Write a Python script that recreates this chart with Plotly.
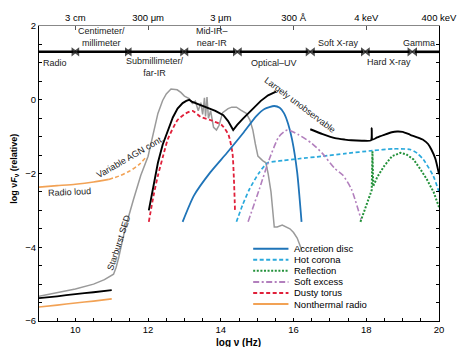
import plotly.graph_objects as go

FONT = "Liberation Sans"

# ---- SED components (log nu [Hz], log nuF_nu relative) ----
radio_loud_x = [9.0, 9.5, 10.0, 10.5, 10.92]
radio_loud_y = [-2.37, -2.33, -2.29, -2.23, -2.16]
agn_var_x = [10.92, 11.2, 11.5, 11.75, 11.95]
agn_var_y = [-2.16, -2.07, -1.93, -1.76, -1.55]

radio_quiet_x = [9.0, 9.5, 10.0, 10.5, 11.0]
radio_quiet_y = [-5.62, -5.57, -5.51, -5.46, -5.40]

total_radio_x = [9.0, 9.5, 10.0, 10.5, 11.0]
total_radio_y = [-5.38, -5.33, -5.27, -5.22, -5.16]

starburst_x = [9.0, 9.5, 10.0, 10.5, 10.8, 11.05, 11.12, 11.19, 11.28, 11.37, 11.6, 11.8,
               12.0, 12.12, 12.27, 12.4, 12.5, 12.63, 12.8, 12.9, 13.0, 13.13, 13.22, 13.3,
               13.38, 13.45, 13.5, 13.55, 13.58, 13.62, 13.66, 13.72, 13.8, 13.88, 13.95,
               14.05, 14.2, 14.3, 14.43, 14.55, 14.7, 14.8, 14.88, 14.95, 15.02, 15.15,
               15.24, 15.3, 15.38, 15.47, 15.55, 15.69, 15.8, 15.9, 16.0, 16.1, 16.22]
starburst_y = [-5.33, -5.24, -5.13, -5.0, -4.88, -4.73, -4.55, -4.29, -3.85, -3.49, -2.7, -2.05,
               -1.53, -1.0, -0.37, -0.02, 0.16, 0.29, 0.27, 0.2, 0.1, 0.03, -0.1, -0.04,
               -0.3, -0.08, -0.4, 0.05, -0.45, 0.07, -0.5, -0.3, -0.75, -0.82, -0.7,
               -0.35, -0.24, -0.2, -0.2, -0.28, -0.37, -0.55, -0.82, -1.2, -1.53, -1.65,
               -1.71, -2.0, -2.5, -3.45, -3.45, -3.4, -3.45, -3.5, -3.6, -3.75, -4.06]

total_ir_x = [12.02, 12.1, 12.2, 12.27, 12.4, 12.54, 12.68, 12.81, 12.95, 13.05, 13.13, 13.2,
              13.35, 13.5, 13.62, 13.85, 14.07, 14.2, 14.34, 14.45, 14.61, 14.88, 15.1, 15.3,
              15.45, 15.52]
total_ir_y = [-3.0, -2.55, -2.05, -1.71, -1.22, -0.82, -0.48, -0.24, -0.09, -0.03, 0.0, -0.05,
              -0.11, -0.17, -0.22, -0.3, -0.42, -0.58, -0.82, -0.68, -0.51, -0.24, -0.03, 0.12,
              0.2, 0.22]

total_x_x = [16.46, 16.8, 17.14, 17.41, 17.59, 17.9, 18.13, 18.15, 18.17, 18.3, 18.49, 18.7,
             18.85, 19.0, 19.21, 19.4, 19.57, 19.7, 19.79, 19.9, 20.0]
total_x_y = [-0.8, -0.93, -1.04, -1.08, -1.10, -1.11, -1.10, -0.77, -1.08, -1.02, -0.95, -0.88,
             -0.86, -0.87, -0.95, -1.02, -1.09, -1.2, -1.35, -1.6, -2.02]

torus_x = [12.02, 12.15, 12.27, 12.42, 12.54, 12.81, 13.04, 13.22, 13.44, 13.71, 14.03, 14.21,
           14.32, 14.36, 14.39]
torus_y = [-3.31, -2.6, -2.06, -1.5, -1.08, -0.55, -0.37, -0.30, -0.46, -0.55, -0.69, -0.95,
           -1.44, -2.15, -3.0]

disc_x = [12.95, 13.26, 13.71, 14.16, 14.61, 14.97, 15.2, 15.47, 15.62, 15.74, 15.85, 15.96,
          16.1, 16.22]
disc_y = [-3.31, -2.6, -1.97, -1.45, -0.91, -0.45, -0.25, -0.17, -0.22, -0.37, -0.65, -1.08,
          -1.97, -3.31]

corona_x = [14.43, 14.6, 14.79, 15.06, 15.29, 15.7, 16.14, 16.8, 17.41, 18.17, 18.76, 19.21,
            19.4, 19.57, 19.84, 20.0]
corona_y = [-3.31, -2.85, -2.42, -1.97, -1.71, -1.65, -1.6, -1.53, -1.46, -1.38, -1.33, -1.35,
            -1.45, -1.62, -2.06, -2.5]

soft_x = [14.75, 15.06, 15.33, 15.6, 15.83, 16.14, 16.5, 16.78, 17.14, 17.36, 17.59, 17.86]
soft_y = [-3.31, -2.42, -1.62, -1.0, -0.82, -0.95, -1.18, -1.44, -1.87, -2.05, -2.42, -3.25]

refl_x = [17.84, 18.0, 18.15, 18.17, 18.19, 18.3, 18.49, 18.71, 18.94, 19.1, 19.3, 19.5,
          19.66, 19.85, 20.0]
refl_y = [-3.31, -2.85, -2.45, -1.40, -2.35, -2.1, -1.8, -1.53, -1.44, -1.48, -1.62, -1.9,
          -2.15, -2.5, -2.91]

# ---- wavelength / energy band bar ----
band_names = ["Radio", "Centimeter/<br>millimeter", "Submillimeter/<br>far-IR",
              "Mid-IR–<br>near-IR", "Optical–UV", "Soft X-ray", "Hard X-ray", "Gamma"]
band_start = [9.0, 10.05, 11.49, 13.05, 14.52, 16.53, 18.04, 19.34]
band_end = [9.95, 11.42, 12.94, 14.39, 16.39, 17.91, 19.19, 20.0]
band_label_x = [9.05, 10.73, 12.2, 13.76, 15.46, 17.24, 18.62, 19.45]
band_label_y = [1.0, 1.69, 0.88, 1.69, 1.0, 1.53, 1.03, 1.53]
band_y = 1.3

top_tick_vals = [10, 12, 14, 16, 18, 20]
top_tick_text = ["3 cm", "300 μm", "3 μm", "300 Å", "4 keV", "400 keV"]

# ---- legend ----
legend_names = ["Accretion disc", "Hot corona", "Reflection", "Soft excess",
                "Dusty torus", "Nonthermal radio"]
legend_colors = ["#1f74b8", "#2aa9dc", "#23913a", "#b27fbd", "#e0203a", "#f2a255"]
legend_dash = ["solid", "4px,2.5px", "2px,1.6px", "6px,2.5px,2px,2.5px", "4px,2.5px", "solid"]

C_DISC, C_COR, C_REF, C_SOFT, C_TOR, C_RAD = legend_colors
GRAY = "#9a9a9a"

fig = go.Figure()


def add_line(x, y, color, width, dash="solid", shape="spline"):
    fig.add_trace(go.Scatter(x=x, y=y, mode="lines", showlegend=False, hoverinfo="skip",
                             line=dict(color=color, width=width, dash=dash, shape=shape,
                                       smoothing=0.6)))


add_line(starburst_x, starburst_y, GRAY, 1.5, shape="linear")
add_line(radio_loud_x, radio_loud_y, C_RAD, 1.6)
add_line(agn_var_x, agn_var_y, C_RAD, 1.6, dash="4px,2.5px")
add_line(radio_quiet_x, radio_quiet_y, C_RAD, 1.6)
add_line(total_radio_x, total_radio_y, "black", 1.8)
add_line(torus_x, torus_y, C_TOR, 1.8, dash=legend_dash[4])
add_line(disc_x, disc_y, C_DISC, 1.8)
add_line(corona_x, corona_y, C_COR, 1.7, dash=legend_dash[1])
add_line(soft_x, soft_y, C_SOFT, 1.6, dash=legend_dash[3])
add_line(refl_x, refl_y, C_REF, 2.0, dash=legend_dash[2], shape="linear")
add_line(total_ir_x, total_ir_y, "black", 1.9, shape="linear")
add_line(total_x_x, total_x_y, "black", 1.9)

# band bar: one thick segment per band with arrowheads at inner ends
for i, (s, e) in enumerate(zip(band_start, band_end)):
    symbols = ["line-ns" if i == 0 else "triangle-left",
               "line-ns" if i == len(band_start) - 1 else "triangle-right"]
    sizes = [0 if i == 0 else 8, 0 if i == len(band_start) - 1 else 8]
    fig.add_trace(go.Scatter(x=[s, e], y=[band_y, band_y], mode="lines+markers",
                             showlegend=False, hoverinfo="skip",
                             line=dict(color="black", width=2.6),
                             marker=dict(symbol=symbols, size=sizes, color="black",
                                         line=dict(width=0))))

# dummy trace so the top axis is rendered
fig.add_trace(go.Scatter(x=[None], y=[None], xaxis="x2", showlegend=False, hoverinfo="skip"))

annotations = []
for i, (name, lx, ly) in enumerate(zip(band_names, band_label_x, band_label_y)):
    annotations.append(dict(x=lx, y=ly, text=name, showarrow=False,
                            xanchor="left" if i == 0 else "center", yanchor="middle",
                            font=dict(family=FONT, size=9, color="#222")))

# curve captions
annotations += [
    dict(x=11.49, y=-1.54, text="Variable AGN cont.", textangle=-30, showarrow=False,
         font=dict(family=FONT, size=9, color="#222")),
    dict(x=9.84, y=-2.5, text="Radio loud", textangle=-3, showarrow=False,
         font=dict(family=FONT, size=9, color="#222")),
    dict(x=11.19, y=-3.88, text="Starburst SED", textangle=-72, showarrow=False,
         font=dict(family=FONT, size=9, color="#222")),
    dict(x=16.18, y=-0.14, text="Largely unobservable", textangle=37, showarrow=False,
         font=dict(family=FONT, size=9, color="#222")),
    dict(x=0, xref="paper", xshift=-24, y=-1.87, yref="y",
         text="<b>log ν<i>F</i><sub>ν</sub> (relative)</b>",
         textangle=-90, showarrow=False, font=dict(family=FONT, size=9, color="black"),
         xanchor="center", yanchor="middle"),
    dict(x=14.49, y=0, yref="paper", yshift=-14, text="<b>log ν (Hz)</b>", showarrow=False,
         yanchor="top", font=dict(family=FONT, size=10, color="black")),
]

# legend drawn as samples + labels
shapes = []
leg_x0, leg_x1, leg_tx = 14.89, 15.86, 15.97
leg_y0, leg_dy = -4.04, -0.30
for k, (nm, col, ds) in enumerate(zip(legend_names, legend_colors, legend_dash)):
    yy = leg_y0 + k * leg_dy
    shapes.append(dict(type="line", xref="x", yref="y", x0=leg_x0, x1=leg_x1, y0=yy, y1=yy,
                       line=dict(color=col, width=2.0, dash=ds)))
    annotations.append(dict(x=leg_tx, y=yy, text=nm, showarrow=False, xanchor="left",
                            yanchor="middle", font=dict(family=FONT, size=9.5, color="black")))

fig.update_layout(
    width=469, height=347,
    margin=dict(l=39, r=24, t=24, b=23),
    paper_bgcolor="white", plot_bgcolor="white",
    showlegend=False,
    font=dict(family=FONT, size=9.5, color="black"),
    annotations=annotations, shapes=shapes,
    xaxis=dict(range=[9, 20], showgrid=False, zeroline=False, showline=True,
               linecolor="black", linewidth=1, ticks="inside", ticklen=3, tickcolor="black",
               tickvals=[10, 12, 14, 16, 18, 20], tickfont=dict(size=9.5),
               minor=dict(dtick=0.5, ticks="inside", ticklen=3, tickcolor="black")),
    xaxis2=dict(range=[9, 20], overlaying="x", side="top", anchor="y", showgrid=False,
                zeroline=False, showline=True, linecolor="#888", linewidth=1,
                ticks="inside", ticklen=4, tickcolor="#555", tickvals=top_tick_vals,
                ticktext=top_tick_text, tickfont=dict(size=9.5)),
    yaxis=dict(range=[-6, 2], showgrid=False, zeroline=False, showline=True,
               linecolor="black", linewidth=1, mirror="ticks", ticks="inside", ticklen=3,
               tickcolor="black", tickvals=[-6, -4, -2, 0, 2], tickfont=dict(size=9.5),
               minor=dict(dtick=0.5, ticks="inside", ticklen=3, tickcolor="black")),
)

fig.write_html("out.html")
